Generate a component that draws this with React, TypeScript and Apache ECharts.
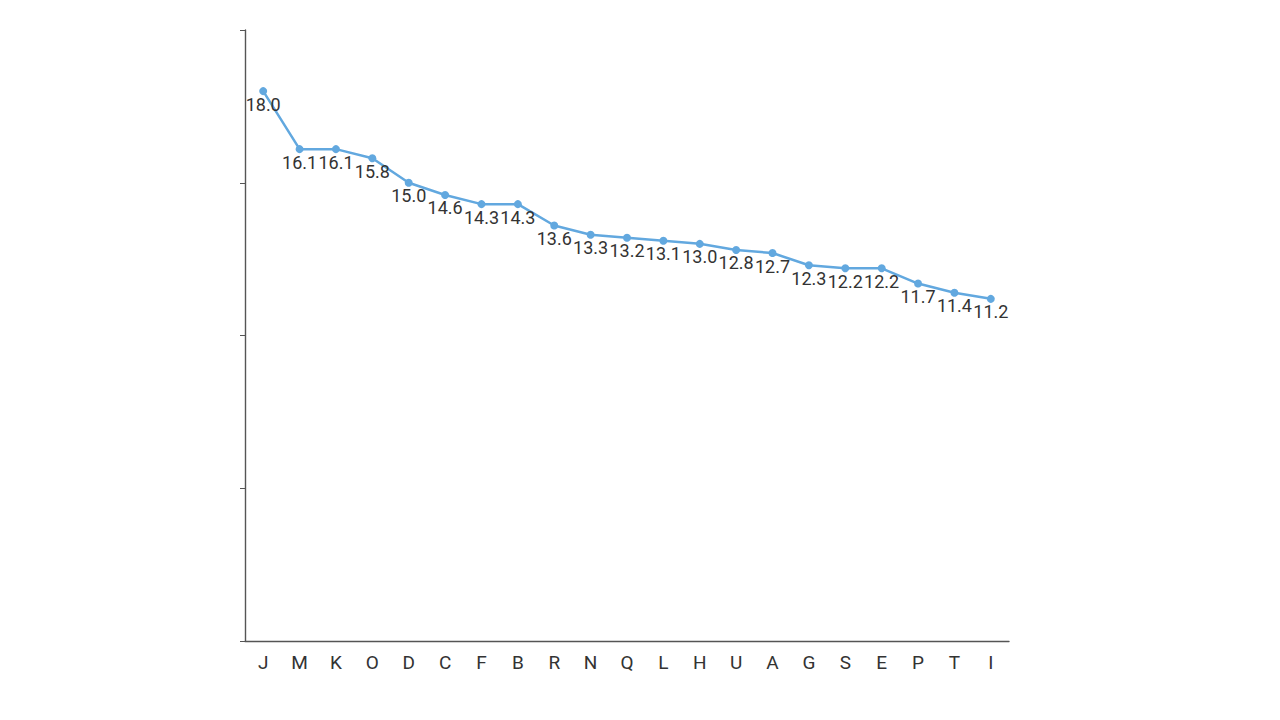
import React, { useEffect, useRef } from "react";
import * as echarts from "echarts";

const categories = ["J", "M", "K", "O", "D", "C", "F", "B", "R", "N", "Q", "L", "H", "U", "A", "G", "S", "E", "P", "T", "I"];
const values = [18.0, 16.1, 16.1, 15.8, 15.0, 14.6, 14.3, 14.3, 13.6, 13.3, 13.2, 13.1, 13.0, 12.8, 12.7, 12.3, 12.2, 12.2, 11.7, 11.4, 11.2];

export default function App() {
  const ref = useRef<HTMLDivElement>(null);
  useEffect(() => {
    if (!ref.current) return;
    const chart = echarts.init(ref.current, null, { renderer: "svg" });
    chart.setOption({
      animation: false,
      textStyle: { fontFamily: "Roboto" },
      grid: { left: 245, right: 271, top: 30, bottom: 79 },
      xAxis: {
        type: "category",
        data: categories,
        axisTick: { alignWithLabel: true, lineStyle: { color: "#555" } },
        axisLine: { lineStyle: { color: "#555", width: 1.4 } },
        axisLabel: { color: "#333", fontSize: 19, margin: 12 },
      },
      yAxis: {
        type: "value",
        min: 0,
        max: 20,
        interval: 5,
        splitLine: { show: false },
        axisLine: { show: true, lineStyle: { color: "#555", width: 1.4 } },
        axisTick: { show: true, lineStyle: { color: "#555" } },
        axisLabel: { show: false },
      },
      series: [
        {
          type: "line",
          data: values,
          symbol: "circle",
          symbolSize: 8,
          lineStyle: { color: "#62a8df", width: 2.5 },
          itemStyle: { color: "#62a8df" },
          label: {
            show: true,
            position: "bottom",
            distance: 0,
            color: "#333",
            fontSize: 18,
            formatter: (p: any) => p.value.toFixed(1),
          },
        },
      ],
    });
    return () => chart.dispose();
  }, []);
  return <div ref={ref} style={{ width: 1280, height: 720, position: "absolute", left: 0, top: 0 }} />;
}
